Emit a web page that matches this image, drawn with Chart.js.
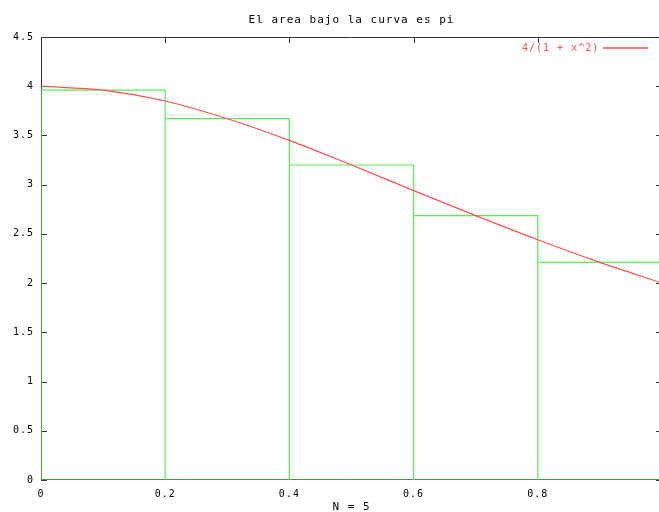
<!DOCTYPE html>
<html>
<head>
<meta charset="utf-8">
<script src="https://cdn.jsdelivr.net/npm/chart.js@4/dist/chart.umd.min.js"></script>
<style>
html,body{margin:0;padding:0;background:#fff;overflow:hidden;width:659px;height:512px;}
#wrap{width:664px;height:512px;}
</style>
</head>
<body>
<div id="wrap"><canvas id="c" width="664" height="512"></canvas></div>
<script>
const title = "El area bajo la curva es pi";
const xLabel = "N = 5";
const curveLabel = "4/(1 + x^2)";
const curveX = [0, 0.1, 0.2, 0.3, 0.4, 0.5, 0.6, 0.7, 0.8, 0.9, 1.0];
const curveY = [4.0, 3.96, 3.85, 3.67, 3.45, 3.2, 2.94, 2.685, 2.44, 2.21, 2.0];
const binEdges = [0, 0.2, 0.4, 0.6, 0.8, 1.0];
const binHeights = [3.96, 3.67, 3.2, 2.685, 2.21];
const xTicks = [0, 0.2, 0.4, 0.6, 0.8];
const yTicks = [0, 0.5, 1, 1.5, 2, 2.5, 3, 3.5, 4, 4.5];

const FONT = "'DejaVu Sans Mono', 'Liberation Mono', monospace";
const RED = "rgb(255,80,80)";
const GREEN = "rgb(90,235,90)";

const curvePts = curveX.map((x, i) => ({x: x, y: curveY[i]}));
const rectPts = [];
binHeights.forEach((h, i) => {
  rectPts.push({x: binEdges[i], y: 0});
  rectPts.push({x: binEdges[i], y: h});
  rectPts.push({x: binEdges[i + 1], y: h});
  rectPts.push({x: binEdges[i + 1], y: 0});
});
rectPts.push({x: binEdges[0], y: 0});

const framePlugin = {
  id: 'frame',
  beforeDraw(chart) {
    chart.ctx.letterSpacing = '1px';
  },
  beforeDatasetsDraw(chart) {
    const ctx = chart.ctx, a = chart.chartArea;
    const xs = chart.scales.x, ys = chart.scales.y;
    ctx.save();
    ctx.strokeStyle = '#333';
    ctx.lineWidth = 1;
    ctx.beginPath();
    ctx.moveTo(a.left + 0.5, a.bottom); ctx.lineTo(a.left + 0.5, a.top + 0.5);
    ctx.lineTo(a.right - 0.5, a.top + 0.5); ctx.lineTo(a.right - 0.5, a.bottom);
    ctx.moveTo(a.left, a.bottom - 0.5); ctx.lineTo(a.right, a.bottom - 0.5);
    xTicks.forEach(v => {
      const px = Math.round(xs.getPixelForValue(v)) + 0.5;
      ctx.moveTo(px, a.top); ctx.lineTo(px, a.top + 6);
    });
    yTicks.forEach(v => {
      const py = Math.round(ys.getPixelForValue(v)) + 0.5;
      ctx.moveTo(a.left, py); ctx.lineTo(a.left + 6, py);
      ctx.moveTo(a.right, py); ctx.lineTo(a.right - 6, py);
    });
    ctx.stroke();
    ctx.restore();
  },
  afterDraw(chart) {
    const ctx = chart.ctx, a = chart.chartArea;
    const cx = (a.left + a.right) / 2;
    ctx.save();
    ctx.letterSpacing = '1px';
    ctx.fillStyle = '#000';
    ctx.font = "11px " + FONT;
    ctx.textAlign = 'center';
    ctx.textBaseline = 'middle';
    ctx.fillText(title, cx, 20);
    ctx.fillText(xLabel, cx, 507);
    ctx.fillStyle = RED;
    ctx.textAlign = 'left';
    ctx.font = "10px " + FONT;
    ctx.fillText(curveLabel, 522, 48);
    ctx.strokeStyle = RED;
    ctx.lineWidth = 1.5;
    ctx.beginPath();
    ctx.moveTo(603, 48); ctx.lineTo(648, 48);
    ctx.stroke();
    ctx.restore();
  }
};

new Chart(document.getElementById('c'), {
  type: 'scatter',
  data: {
    datasets: [
      {label: curveLabel, data: curvePts, showLine: true, borderColor: RED, borderWidth: 1.2,
       pointRadius: 0, cubicInterpolationMode: 'monotone', fill: false},
      {label: 'rect', data: rectPts, showLine: true, borderColor: GREEN, borderWidth: 1.2,
       pointRadius: 0, tension: 0, fill: false}
    ]
  },
  options: {
    responsive: false,
    animation: false,
    devicePixelRatio: 1,
    layout: {padding: {top: 37, right: 2, left: 0, bottom: 0}},
    plugins: {legend: {display: false}, tooltip: {enabled: false}, title: {display: false}},
    scales: {
      x: {
        type: 'linear', min: 0, max: 1,
        afterFit(s) { s.height = 32; },
        afterBuildTicks(s) { s.ticks = xTicks.map(v => ({value: v})); },
        grid: {display: false, drawTicks: false},
        border: {display: false},
        ticks: {padding: 8, color: '#000', font: {family: FONT, size: 10},
                maxRotation: 0, callback: v => String(v)}
      },
      y: {
        type: 'linear', min: 0, max: 4.5,
        afterFit(s) { s.width = 41; },
        afterBuildTicks(s) { s.ticks = yTicks.map(v => ({value: v})); },
        grid: {display: false, drawTicks: false},
        border: {display: false},
        ticks: {padding: 7, color: '#000', font: {family: FONT, size: 10},
                callback: v => String(v)}
      }
    }
  },
  plugins: [framePlugin]
});
</script>
</body>
</html>
